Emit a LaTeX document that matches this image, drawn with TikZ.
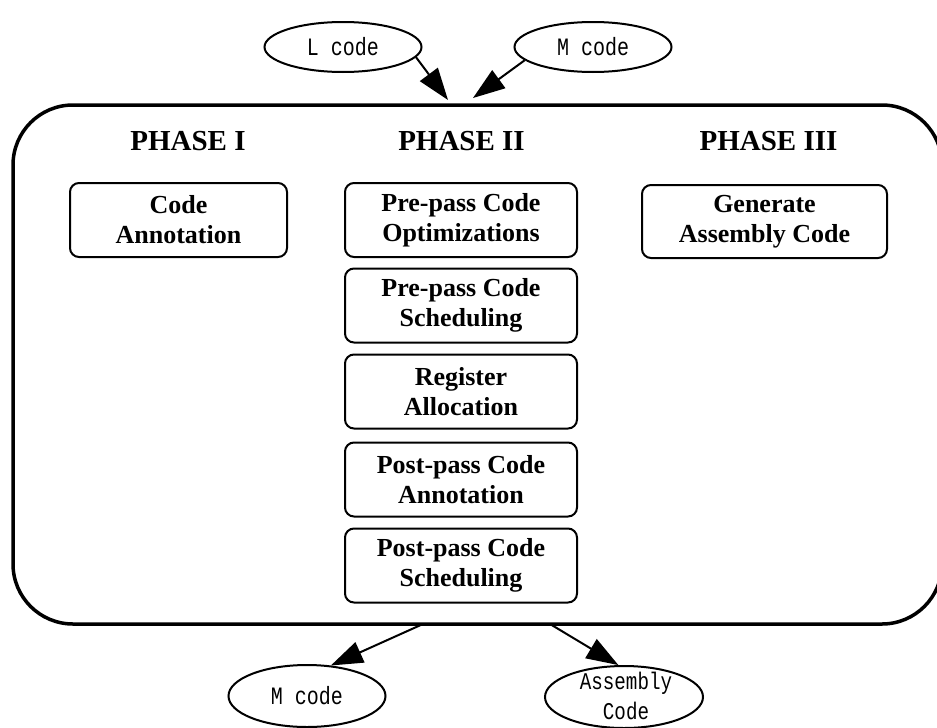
\documentclass[tikz,border=0pt]{standalone}
\usepackage{fontspec}
\setmainfont{Liberation Serif}
\newfontfamily\monofont[FakeStretch=0.8]{Liberation Mono}
\usetikzlibrary{shapes.geometric,arrows.meta}
\begin{document}
\begin{tikzpicture}[x=1pt,y=-1pt,
  frame/.style={draw,line width=3.5pt,rounded corners=60pt,inner sep=0pt},
  box/.style={draw,line width=2pt,rounded corners=9pt,minimum width=232pt,minimum height=74pt,inner sep=0pt,align=center,font=\fontsize{26}{30}\selectfont\bfseries},
  head/.style={font=\fontsize{29}{34}\selectfont\bfseries},
  ell/.style={draw,ellipse,line width=2pt,minimum width=157pt,minimum height=50pt,inner sep=0pt,font=\monofont\fontsize{25}{32}\selectfont},
  mono/.style={inner sep=0pt,align=center,font=\monofont\fontsize{24}{30}\selectfont},
  arr/.style={line width=2pt,-{Triangle[length=32pt,width=22pt]}}
]
\useasboundingbox (0,0) rectangle (937,728);
% outer frame
\node[frame,minimum width=929pt,minimum height=519pt] (frm) at (477.5,364.5) {};
% headings
\node[head] (h1) at (188,141) {PHASE I};
\node[head] (h2) at (461.5,141) {PHASE II};
\node[head] (h3) at (768.5,141) {PHASE III};
% boxes
\node[box,minimum width=217pt] (ca) at (178.5,220) {Code\\Annotation};
\node[box] (p1) at (461,220) {Pre-pass Code\\Optimizations};
\node[box] (p2) at (461,305.5) {Pre-pass Code\\Scheduling};
\node[box] (p3) at (461,391.5) {Register\\Allocation};
\node[box] (p4) at (461,479.5) {Post-pass Code\\Annotation};
\node[box] (p5) at (461,565.5) {Post-pass Code\\Scheduling};
\node[box,minimum width=245pt,minimum height=73pt] (ga) at (764.5,221.5) {Generate\\Assembly Code};
% ellipses
\node[ell] (lc) at (343,47) {L code};
\node[ell] (mc) at (593,47) {M code};
\node[ell,minimum height=62pt] (mo) at (307,696) {M code};
\node[ell,minimum width=158pt,minimum height=62pt] (as) at (624,697) {};
\node[mono] (ast) at (626,696) {Assembly\\Code};
% connector ends on the frame
\coordinate (t1) at (448,100);
\coordinate (t2) at (473,98);
\coordinate (b1) at (423,624);
\coordinate (b2) at (550,624);
% connectors
\draw[arr] (lc.-8) -- (t1);
\draw[arr] (mc.191) -- (t2);
\draw[arr] (b1) -- (mo.52);
\draw[arr] (b2) -- (as.100);
\end{tikzpicture}
\end{document}
